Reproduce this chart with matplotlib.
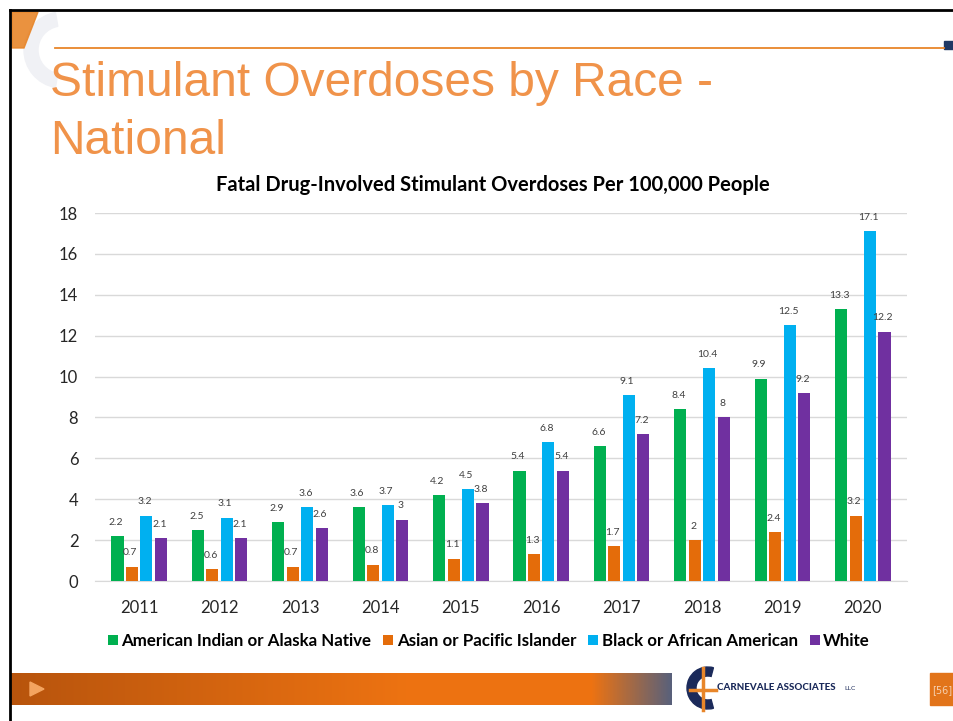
import matplotlib.pyplot as plt
import numpy as np
from matplotlib.patches import Rectangle, Polygon, Wedge

years = ['2011', '2012', '2013', '2014', '2015', '2016', '2017', '2018', '2019', '2020']
aian = [2.2, 2.5, 2.9, 3.6, 4.2, 5.4, 6.6, 8.4, 9.9, 13.3]
api = [0.7, 0.6, 0.7, 0.8, 1.1, 1.3, 1.7, 2.0, 2.4, 3.2]
black = [3.2, 3.1, 3.6, 3.7, 4.5, 6.8, 9.1, 10.4, 12.5, 17.1]
white = [2.1, 2.1, 2.6, 3.0, 3.8, 5.4, 7.2, 8.0, 9.2, 12.2]
series_names = ['American Indian or Alaska Native', 'Asian or Pacific Islander',
                'Black or African American', 'White']
colors = ['#00B050', '#E46C0A', '#00B0F0', '#7030A0']

W, H = 954, 721
fig = plt.figure(figsize=(W / 100, H / 100), dpi=100)

# slide background / decorations, in pixel coords
bg = fig.add_axes([0, 0, 1, 1], zorder=0)
bg.set_xlim(0, W)
bg.set_ylim(H, 0)
bg.axis('off')
bg.plot([10, 10], [10, H], color='black', lw=2)
bg.plot([10, W], [10, 10], color='black', lw=2)
bg.add_patch(Wedge((62, 50), 38, 100, 260, width=14, color='#F0F1F5'))
bg.add_patch(Polygon([[12, 12], [38, 12], [24, 48], [12, 48]], color='#E8862A', alpha=0.9))
bg.plot([55, 944], [48, 48], color='#E8862A', lw=1.3)
bg.add_patch(Rectangle((944, 41), 10, 8, color='#1F3864'))
bg.text(50, 84, 'Stimulant Overdoses by Race -', fontsize=34.5, color='#F0934A',
        family='Liberation Sans', va='center', ha='left')
bg.text(50, 141, 'National', fontsize=34.5, color='#F0934A',
        family='Liberation Sans', va='center', ha='left')

# gradient bottom bar
grad = np.linspace(0, 1, 300)
cols = []
c1 = np.array([0.72, 0.33, 0.05])
c2 = np.array([0.93, 0.45, 0.07])
c3 = np.array([0.35, 0.38, 0.48])
for g in grad:
    if g < 0.6:
        cols.append(c1 + (c2 - c1) * g / 0.6)
    elif g < 0.88:
        cols.append(c2)
    else:
        cols.append(c2 + (c3 - c2) * (g - 0.88) / 0.12)
img = np.array(cols)[None, :, :]
bg.imshow(img, extent=[10, 672, 705, 673], aspect='auto', zorder=1)
bg.add_patch(Polygon([[30, 682], [30, 696], [44, 689]], color='#F4A460', zorder=2))
bg.add_patch(Rectangle((930, 673), 24, 32, color='#E2741A', zorder=1))
bg.text(942, 690, '[56]', fontsize=7, color='#F6D0B0', ha='center', va='center', zorder=3)
bg.set_xlim(0, W)
bg.set_ylim(H, 0)

# logo
bg.add_patch(Wedge((708, 688), 21, 75, 285, width=9, color='#1B2A5A', zorder=2))
bg.plot([690, 716], [690, 690], color='#E8862A', lw=2.5, zorder=3)
bg.plot([703, 703], [668, 710], color='#E8862A', lw=2.5, zorder=3)
bg.text(717, 688, 'CARNEVALE ASSOCIATES', fontsize=7, fontweight='black', color='#1B2A5A',
        family='Lato', va='center', ha='left', zorder=3)
bg.text(844, 689, 'LLC', fontsize=4.5, color='#1B2A5A', va='center', ha='left', zorder=3)

# chart
ax = fig.add_axes([95 / W, 1 - 581 / H, (907 - 95) / W, (581 - 213) / H], zorder=2)
ax.patch.set_alpha(0)
x = np.arange(len(years))
width = 0.15
step = 0.18
for i, (vals, c, name) in enumerate(zip([aian, api, black, white], colors, series_names)):
    pos = x + (i - 1.5) * step
    ax.bar(pos, vals, width=width, color=c, label=name, zorder=3)
    for p, v in zip(pos, vals):
        ax.text(p - 0.02, v + 0.45, f'{v:g}', ha='center', va='bottom', fontsize=7.5,
                color='#404040', family='Lato')

ax.set_ylim(0, 18)
ax.set_xlim(-0.55, len(years) - 0.45)
ax.set_yticks(np.arange(0, 19, 2))
ax.set_xticks(x)
ax.set_xticklabels(years)
ax.yaxis.grid(True, color='#D9D9D9', lw=1)
ax.set_axisbelow(True)
for s in ['top', 'right', 'left']:
    ax.spines[s].set_visible(False)
ax.spines['bottom'].set_color('#D9D9D9')
ax.tick_params(length=0, labelsize=12, colors='#262626')
for lab in ax.get_xticklabels() + ax.get_yticklabels():
    lab.set_family('Lato')
ax.tick_params(axis='x', pad=14)
ax.tick_params(axis='y', pad=12)
ax.set_title('Fatal Drug-Involved Stimulant Overdoses Per 100,000 People', fontsize=14.5,
             fontweight='bold', family='Lato', pad=16, x=0.49)
ax.legend(loc='upper center', bbox_to_anchor=(0.485, -0.1), ncol=4, frameon=False,
          handlelength=0.6, handleheight=0.6, handletextpad=0.2, columnspacing=0.7,
          prop={'family': 'Lato', 'weight': 'bold', 'size': 12.2})

fig.savefig('out.png', dpi=100)
